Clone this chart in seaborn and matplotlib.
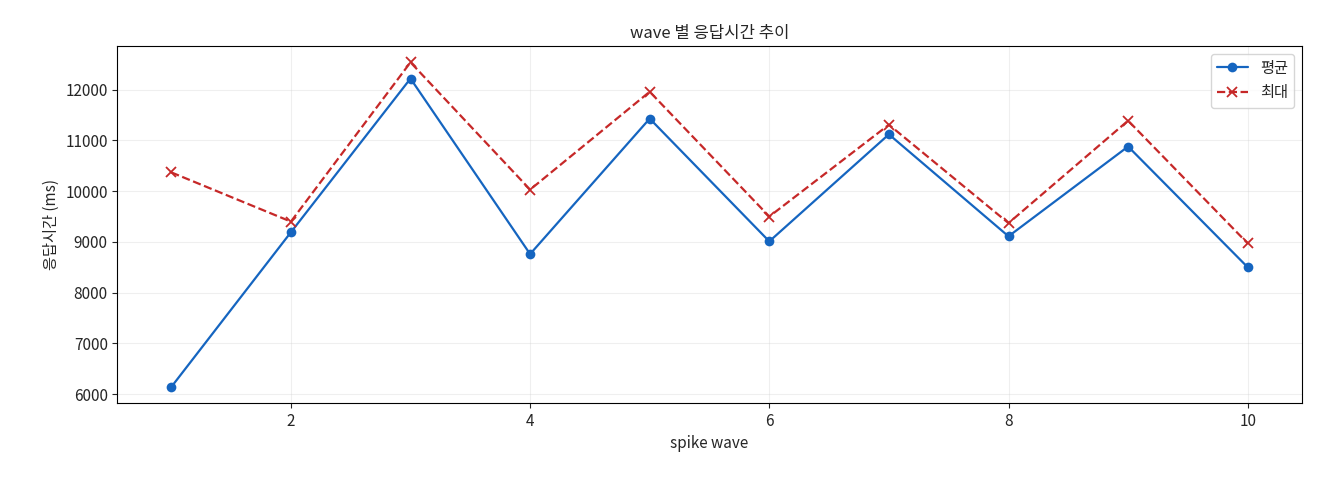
import matplotlib
matplotlib.use("Agg")
import matplotlib.pyplot as plt
import seaborn as sns
import pandas as pd

waves = [1, 2, 3, 4, 5, 6, 7, 8, 9, 10]
mean_ms = [6140, 9190, 12220, 8760, 11430, 9010, 11120, 9110, 10880, 8500]
max_ms = [10370, 9400, 12540, 10030, 11960, 9500, 11310, 9370, 11390, 8970]

sns.set_style("white")
plt.rcParams['font.family'] = ['Noto Sans CJK KR', 'DejaVu Sans']
plt.rcParams['axes.unicode_minus'] = False
plt.rcParams['font.size'] = 11

df = pd.DataFrame({"wave": waves, "mean": mean_ms, "max": max_ms})
fig, ax = plt.subplots(figsize=(13.2, 4.8), dpi=100)
sns.lineplot(data=df, x="wave", y="mean", ax=ax, color="#1565c0", marker="o",
             markersize=7, markeredgewidth=0, label="평균", linewidth=1.6)
sns.lineplot(data=df, x="wave", y="max", ax=ax, color="#c62828", marker="x",
             markersize=7, markeredgecolor="#c62828", markeredgewidth=1.3,
             linestyle="--", label="최대", linewidth=1.6)
ax.set_title("wave 별 응답시간 추이", fontsize=12)
ax.set_xlabel("spike wave")
ax.set_ylabel("응답시간 (ms)")
ax.grid(True, alpha=0.3)
for s in ax.spines.values():
    s.set_color("black")
ax.tick_params(left=True, bottom=True)
ax.legend(loc="upper right")
fig.subplots_adjust(left=0.089, right=0.986, top=0.904, bottom=0.16)
fig.savefig("out.png")
